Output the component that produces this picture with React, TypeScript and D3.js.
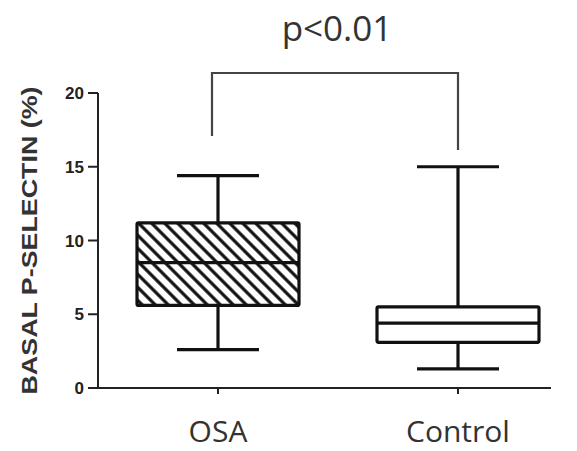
import React from "react";
import * as d3 from "d3";

const categories = ["OSA", "Control"];
const whiskerLow = [2.6, 1.3];
const q1 = [5.6, 3.1];
const median = [8.5, 4.4];
const q3 = [11.2, 5.5];
const whiskerHigh = [14.4, 15.0];
const hatched = [true, false];
const yTicks = [0, 5, 10, 15, 20];
const pLabel = "p<0.01";
const yLabel = "BASAL P-SELECTIN (%)";

export default function App() {
  const W = 577, H = 451;
  const y = d3.scaleLinear().domain([0, 20]).range([388, 93]);
  const x = d3.scalePoint<string>().domain(categories).range([218, 458]);
  const boxHalf = 81;
  const capHalf = 41;
  const axisColor = "#222";
  return (
    <svg width={W} height={H} style={{ position: "absolute", left: 0, top: 0, background: "#fff" }}>
      <defs>
        <pattern id="hatch" patternUnits="userSpaceOnUse" width="9.2" height="9.2" patternTransform="rotate(-45)">
          <line x1="4.6" y1="0" x2="4.6" y2="9.2" stroke="#111" strokeWidth="3.2" />
        </pattern>
      </defs>
      {/* y axis */}
      <line x1={98} x2={98} y1={y(20)} y2={y(0) + 1} stroke={axisColor} strokeWidth={2} />
      {yTicks.map((t) => (
        <g key={t}>
          <line x1={88} x2={98} y1={y(t)} y2={y(t)} stroke={axisColor} strokeWidth={2} />
          <text x={84} y={y(t)} dy="0.36em" textAnchor="end" fontFamily="Liberation Sans, Arial" fontWeight="bold" fontSize={17} fill="#222">{t}</text>
        </g>
      ))}
      {/* x axis */}
      <line x1={97} x2={551} y1={y(0)} y2={y(0)} stroke={axisColor} strokeWidth={2} />
      {categories.map((c) => (
        <g key={c}>
          <line x1={x(c)} x2={x(c)} y1={y(0)} y2={y(0) + 6} stroke={axisColor} strokeWidth={2} />
          <text x={x(c)} y={442} textAnchor="middle" fontFamily="Open Sans, Noto Sans" fontSize={30} fill="#333">{c}</text>
        </g>
      ))}
      {/* y label */}
      <text transform={`translate(37,${(y(0) + y(20)) / 2}) rotate(-90)`} textAnchor="middle" fontFamily="Liberation Sans, Arial" fontWeight="bold" fontSize={22} fill="#333" textLength={308} lengthAdjust="spacingAndGlyphs">{yLabel}</text>
      {/* boxes */}
      {categories.map((c, i) => {
        const cx = x(c)!;
        return (
          <g key={c} stroke="#111" strokeWidth={3.2} strokeLinecap="butt">
            <line x1={cx} x2={cx} y1={y(whiskerHigh[i])} y2={y(q3[i])} />
            <line x1={cx} x2={cx} y1={y(q1[i])} y2={y(whiskerLow[i])} />
            <line x1={cx - capHalf} x2={cx + capHalf} y1={y(whiskerHigh[i])} y2={y(whiskerHigh[i])} />
            <line x1={cx - capHalf} x2={cx + capHalf} y1={y(whiskerLow[i])} y2={y(whiskerLow[i])} />
            <rect x={cx - boxHalf} y={y(q3[i])} width={boxHalf * 2} height={y(q1[i]) - y(q3[i])} fill={hatched[i] ? "url(#hatch)" : "#fff"} rx={1.5} />
            <line x1={cx - boxHalf} x2={cx + boxHalf} y1={y(median[i])} y2={y(median[i])} />
          </g>
        );
      })}
      {/* significance bracket */}
      <path d={`M${x("OSA")! - 6},${136} V73 H${x("Control")!} V150`} fill="none" stroke="#444" strokeWidth={2.2} />
      <text x={337} y={41} textAnchor="middle" fontFamily="Open Sans, Noto Sans" fontSize={35} fill="#333">{pLabel}</text>
    </svg>
  );
}
